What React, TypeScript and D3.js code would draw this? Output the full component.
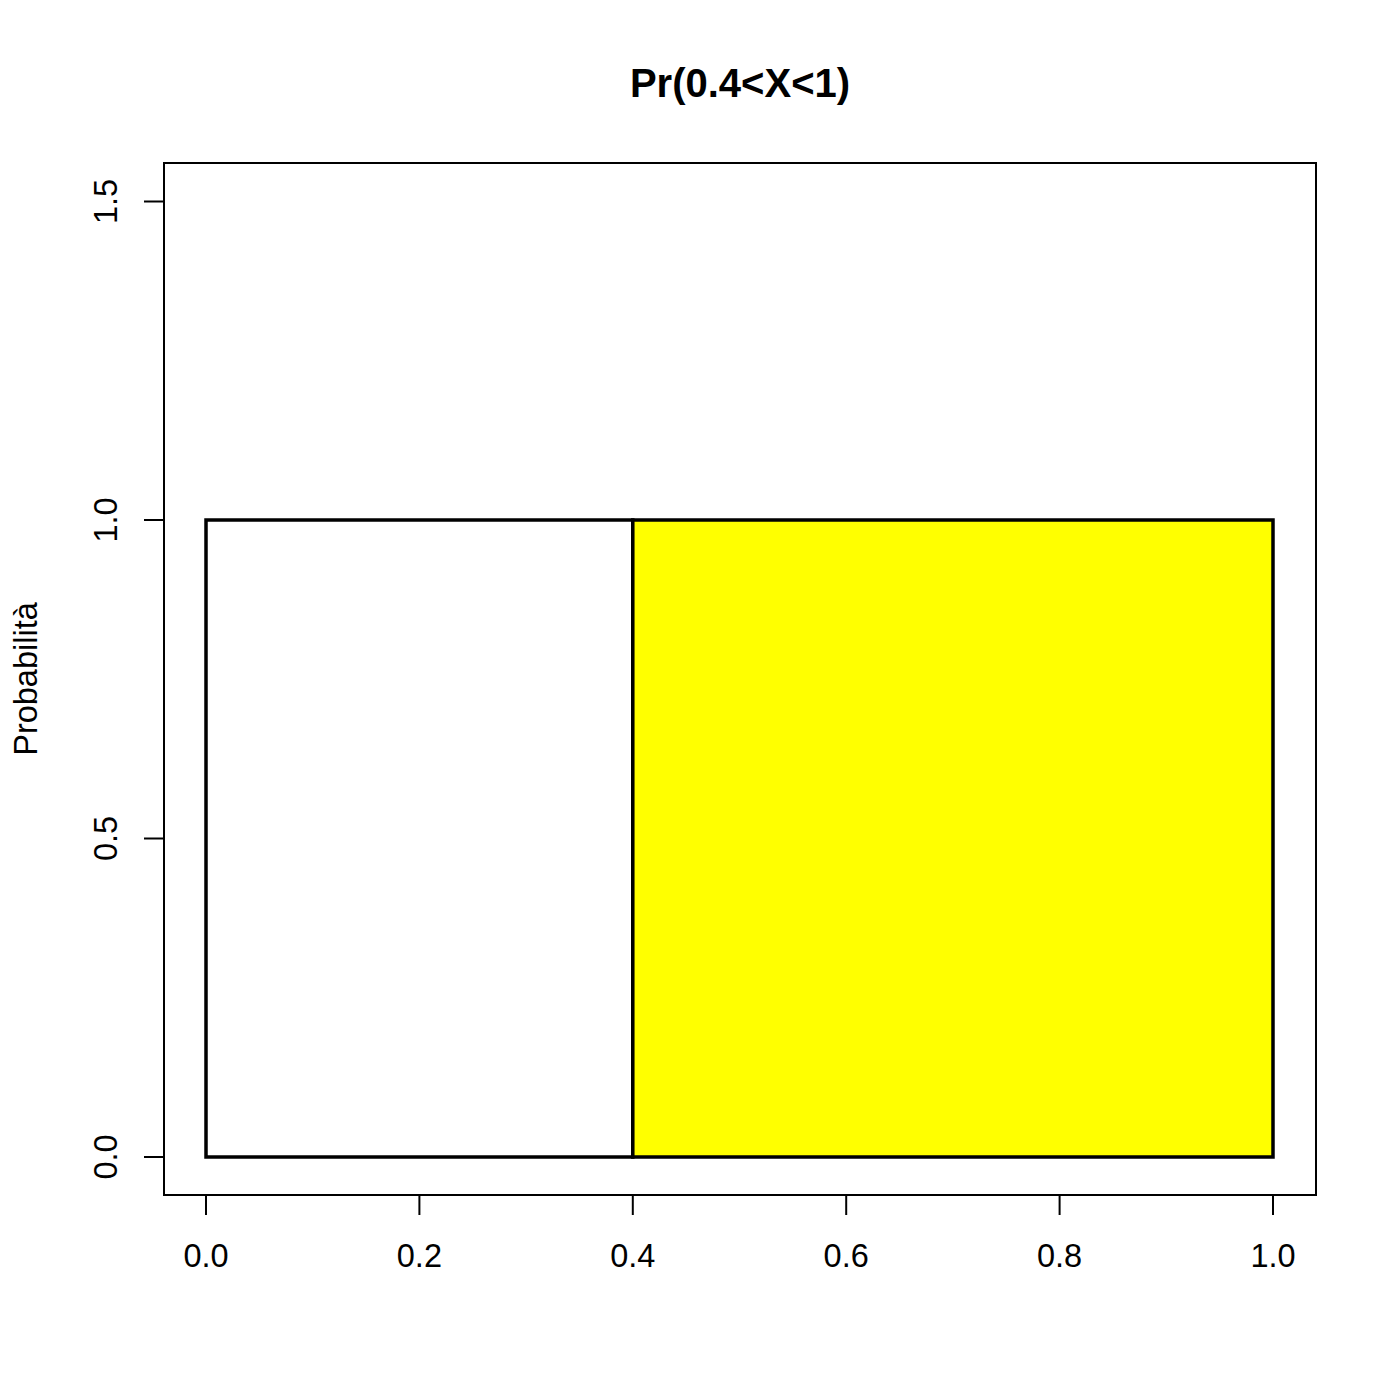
import React from "react";
import * as d3 from "d3";

// bar edges and heights (uniform density on [0,1], shaded part 0.4..1)
const barStarts = [0, 0.4];
const barEnds = [0.4, 1];
const barHeights = [1, 1];
const barFills = ["white", "#FFFF00"];
const xTicks = [0, 0.2, 0.4, 0.6, 0.8, 1.0];
const yTicks = [0, 0.5, 1.0, 1.5];
const title = "Pr(0.4<X<1)";
const yLabel = "Probabilità";

export default function App() {
  const box = { left: 164, right: 1316, top: 163, bottom: 1195 };
  const x = d3.scaleLinear().domain([0, 1]).range([206, 1273]);
  const y = d3.scaleLinear().domain([0, 1]).range([1157, 520]);
  const font = "Liberation Sans, Arial, sans-serif";

  return (
    <svg width={1400} height={1400} style={{ position: "absolute", left: 0, top: 0, background: "white" }} fontFamily={font}>
      <rect width={1400} height={1400} fill="white" />
      <text x={(box.left + box.right) / 2} y={97} textAnchor="middle" fontWeight="bold" fontSize={40}>{title}</text>

      {barStarts.map((s, i) => (
        <rect key={i} x={x(s)} y={y(barHeights[i])} width={x(barEnds[i]) - x(s)} height={y(0) - y(barHeights[i])}
          fill={barFills[i]} stroke="black" strokeWidth={3.5} />
      ))}

      <rect x={box.left} y={box.top} width={box.right - box.left} height={box.bottom - box.top} fill="none" stroke="black" strokeWidth={2} />

      {/* x axis */}
      <line x1={x(xTicks[0])} x2={x(xTicks[xTicks.length - 1])} y1={box.bottom} y2={box.bottom} stroke="black" strokeWidth={2} />
      {xTicks.map(t => (
        <g key={t}>
          <line x1={x(t)} x2={x(t)} y1={box.bottom} y2={box.bottom + 20} stroke="black" strokeWidth={2} />
          <text x={x(t)} y={1267} textAnchor="middle" fontSize={32.5}>{t.toFixed(1)}</text>
        </g>
      ))}

      {/* y axis */}
      {yTicks.map(t => (
        <g key={t}>
          <line x1={box.left - 20} x2={box.left} y1={y(t)} y2={y(t)} stroke="black" strokeWidth={2} />
          <text transform={`translate(117,${y(t)}) rotate(-90)`} textAnchor="middle" fontSize={32.5}>{t.toFixed(1)}</text>
        </g>
      ))}
      <text transform={`translate(37,${(box.top + box.bottom) / 2}) rotate(-90)`} textAnchor="middle" fontSize={32.5}>{yLabel}</text>
    </svg>
  );
}
